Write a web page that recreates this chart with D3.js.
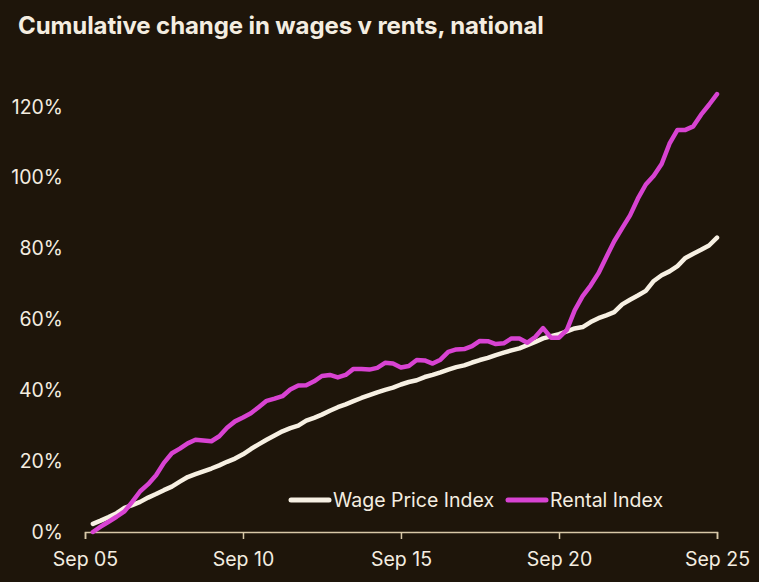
<!DOCTYPE html>
<html>
<head>
<meta charset="utf-8">
<script src="https://cdn.jsdelivr.net/npm/d3@7"></script>
<style>
    body { margin: 0; background: #1e150a; }
    text { font-family: Inter, "Noto Sans", sans-serif; fill: #f4ede0; }
</style>
</head>
<body>
<div id="chart"></div>
<script>
// quarters from Dec 05 to Sep 25
var quarterLabels = [];
for (var i = 1; i <= 80; i++) quarterLabels.push(i);

var wageValues = [
    2.3, 3.2, 4.2, 5.3, 6.8, 7.6, 8.5, 9.7, 10.7, 11.8,
    12.8, 14.2, 15.5, 16.3, 17.1, 17.9, 18.8, 19.8, 20.7, 21.9,
    23.4, 24.7, 26, 27.2, 28.4, 29.3, 30, 31.4, 32.2, 33.1,
    34.2, 35.2, 36, 36.9, 37.8, 38.6, 39.4, 40.1, 40.7, 41.6,
    42.3, 42.8, 43.7, 44.3, 45, 45.8, 46.5, 47, 47.8, 48.5,
    49.1, 49.9, 50.6, 51.2, 51.8, 52.7, 53.6, 54.6, 55.2, 55.8,
    56.6, 57.4, 57.8, 59.2, 60.3, 61.1, 62, 64.2, 65.5, 66.7,
    68, 70.8, 72.4, 73.5, 75, 77.3, 78.5, 79.6, 80.8, 83
];

var rentValues = [
    0, 1.5, 2.9, 4.3, 5.8, 8.5, 11.5, 13.5, 16, 19.5,
    22.2, 23.5, 25, 26, 25.8, 25.6, 27, 29.4, 31.2, 32.3,
    33.5, 35.2, 37, 37.6, 38.3, 40.2, 41.3, 41.4, 42.5, 44,
    44.3, 43.6, 44.3, 46, 46, 45.8, 46.3, 47.7, 47.5, 46.4,
    46.8, 48.5, 48.4, 47.5, 48.6, 50.8, 51.5, 51.6, 52.4, 53.9,
    53.8, 53, 53.2, 54.6, 54.6, 53.4, 55, 57.5, 54.8, 54.8,
    57, 62.5, 66.5, 69.5, 73, 77.5, 82, 85.7, 89.3, 94,
    98, 100.5, 103.8, 109.5, 113.4, 113.4, 114.4, 117.7, 120.5, 123.5
];

var yTicks = [0, 20, 40, 60, 80, 100, 120];
var xTickYears = [2005, 2010, 2015, 2020, 2025];
var seriesNames = ["Wage Price Index", "Rental Index"];

var svgWidth = 759;
var svgHeight = 582;

var svg = d3.select("#chart")
    .append("svg")
    .attr("width", svgWidth)
    .attr("height", svgHeight);

svg.append("rect")
    .attr("width", svgWidth)
    .attr("height", svgHeight)
    .attr("fill", "#1e150a");

svg.append("text")
    .attr("x", 18)
    .attr("y", 34)
    .attr("font-size", "24px")
    .attr("font-weight", 700)
    .attr("letter-spacing", "-0.1px")
    .text("Cumulative change in wages v rents, national");

var qDate = q => new Date(2005, 8 + 3 * q, 1);

var xScale = d3.scaleTime()
    .domain([new Date(2005, 8, 1), new Date(2025, 8, 1)])
    .range([85, 717]);

var yScale = d3.scaleLinear()
    .domain([0, 120])
    .range([532, 106.5]);

// y labels, no axis line
svg.append("g")
    .selectAll("text")
    .data(yTicks)
    .enter()
    .append("text")
    .attr("x", 63)
    .attr("y", d => yScale(d))
    .attr("dy", "0.36em")
    .attr("text-anchor", "end")
    .attr("font-size", "19.5px")
    .text(d => d + "%");

var xAxis = d3.axisBottom(xScale)
    .tickValues(xTickYears.map(y => new Date(y, 8, 1)))
    .tickFormat(d3.timeFormat("Sep %y"))
    .tickSizeOuter(0)
    .tickSize(7)
    .tickPadding(13);

var xAxisGroup = svg.append("g")
    .attr("transform", "translate(0, 532)")
    .call(xAxis);

xAxisGroup.select(".domain").attr("stroke", "#d8c8a8").attr("stroke-width", 1.5);
xAxisGroup.selectAll(".tick line").attr("stroke", "#d8c8a8").attr("stroke-width", 1.5);
xAxisGroup.selectAll(".tick text")
    .attr("font-size", "19.5px")
    .attr("font-family", "Inter, sans-serif")
    .attr("fill", "#f4ede0");

var line = d3.line()
    .x((d, i) => xScale(qDate(quarterLabels[i])))
    .y(d => yScale(d));

svg.append("path")
    .datum(wageValues)
    .attr("d", line)
    .attr("fill", "none")
    .attr("stroke", "#f7f0e3")
    .attr("stroke-width", 4.5)
    .attr("stroke-linejoin", "round")
    .attr("stroke-linecap", "round");

svg.append("path")
    .datum(rentValues)
    .attr("d", line)
    .attr("fill", "none")
    .attr("stroke", "#d843d2")
    .attr("stroke-width", 4.5)
    .attr("stroke-linejoin", "round")
    .attr("stroke-linecap", "round");

// legend
var legend = svg.append("g");
var legendColors = ["#f7f0e3", "#d843d2"];
var legendX = [291, 508];

seriesNames.forEach(function (name, i) {
    legend.append("line")
        .attr("x1", legendX[i])
        .attr("x2", legendX[i] + 38)
        .attr("y1", 500)
        .attr("y2", 500)
        .attr("stroke", legendColors[i])
        .attr("stroke-width", 5)
        .attr("stroke-linecap", "round");
    legend.append("text")
        .attr("x", legendX[i] + 42)
        .attr("y", 500)
        .attr("dy", "0.36em")
        .attr("font-size", "19.5px")
        .text(name);
});
</script>
</body>
</html>
